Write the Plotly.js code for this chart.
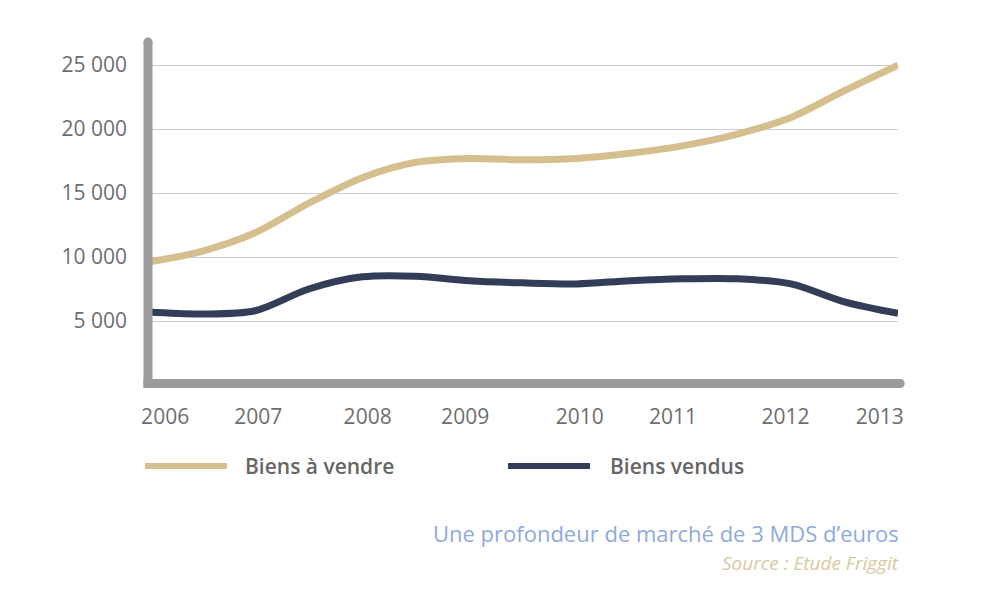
<!DOCTYPE html>
<html>
<head>
<meta charset="utf-8">
<script src="https://cdn.plot.ly/plotly-3.0.1.min.js"></script>
<style>html,body{margin:0;padding:0;background:#fff;}#chart{width:1000px;height:600px;}</style>
</head>
<body>
<div id="chart"></div>
<script>
// Data
const years = [2006, 2006.5, 2007, 2007.5, 2008, 2008.5, 2009, 2009.5, 2010, 2010.5, 2011, 2011.5, 2012, 2012.5, 2013];
const biensAVendre = [9600, 10450, 11900, 14200, 16200, 17400, 17700, 17600, 17700, 18100, 18700, 19600, 20900, 23000, 25000];
const biensVendus = [5700, 5550, 5800, 7500, 8450, 8500, 8150, 7980, 7900, 8150, 8300, 8300, 7900, 6500, 5600];
const xTickLabels = ['2006', '2007', '2008', '2009', '2010', '2011', '2012', '2013'];
const xTickPositions = [2006.16, 2007.03, 2008.05, 2008.96, 2010.03, 2010.90, 2011.95, 2012.83];
const yTickValues = [5000, 10000, 15000, 20000, 25000];
const yTickLabels = ['5 000', '10 000', '15 000', '20 000', '25 000'];
const seriesNames = ['Biens à vendre', 'Biens vendus'];
const footerTitle = 'Une profondeur de marché de 3 MDS d’euros';
const footerSource = 'Source : Etude Friggit';

const TAN = '#d6bf8e';
const NAVY = '#323d57';
const BAR = '#9b9b9b';
const FONT = 'Open Sans, sans-serif';
const TICKCOL = '#6e6e6e';

const traces = [
  {x: years, y: biensAVendre, name: seriesNames[0], type: 'scatter', mode: 'lines',
   line: {color: TAN, width: 7, shape: 'spline', smoothing: 0.9}, showlegend: false, cliponaxis: false},
  {x: years, y: biensVendus, name: seriesNames[1], type: 'scatter', mode: 'lines',
   line: {color: NAVY, width: 7, shape: 'spline', smoothing: 0.9}, showlegend: false, cliponaxis: false}
];

const layout = {
  width: 1000, height: 600,
  margin: {l: 148, r: 102, t: 42, b: 215},
  paper_bgcolor: '#ffffff', plot_bgcolor: '#ffffff',
  font: {family: FONT, color: TICKCOL, size: 21},
  showlegend: false,
  xaxis: {
    range: [2006, 2013], showgrid: false, zeroline: false, showline: false,
    tickmode: 'array', tickvals: xTickPositions, ticktext: xTickLabels,
    ticks: '', ticklabelstandoff: 17,
    tickfont: {family: FONT, size: 21, color: TICKCOL}, fixedrange: true
  },
  yaxis: {
    range: [0, 26800], showgrid: true, gridcolor: '#cccccc', gridwidth: 1,
    zeroline: false, showline: false,
    tickmode: 'array', tickvals: yTickValues, ticktext: yTickLabels,
    ticks: '', ticklabelstandoff: 20,
    tickfont: {family: FONT, size: 21, color: TICKCOL}, fixedrange: true
  },
  shapes: [
    {type: 'line', xref: 'paper', yref: 'paper', x0: 0, x1: 0, y0: -0.009, y1: 1.0, line: {color: BAR, width: 9}, layer: 'above'},
    {type: 'line', xref: 'paper', yref: 'paper', x0: -0.006, x1: 1.003, y0: 0.0044, y1: 0.0044, line: {color: BAR, width: 9}, layer: 'above'},
    {type: 'circle', xref: 'paper', yref: 'paper', x0: -0.006, x1: 0.006, y0: 0.987, y1: 1.013, fillcolor: BAR, line: {width: 0}},
    {type: 'circle', xref: 'paper', yref: 'paper', x0: 0.997, x1: 1.009, y0: -0.0087, y1: 0.0175, fillcolor: BAR, line: {width: 0}},
    {type: 'line', xref: 'paper', yref: 'paper', x0: -0.004, x1: 0.1053, y0: -0.2362, y1: -0.2362, line: {color: TAN, width: 6}},
    {type: 'line', xref: 'paper', yref: 'paper', x0: 0.48, x1: 0.5893, y0: -0.2362, y1: -0.2362, line: {color: NAVY, width: 6}}
  ],
  annotations: [
    {xref: 'paper', yref: 'paper', x: 0.127, y: -0.2362, xanchor: 'left', yanchor: 'middle', showarrow: false,
     text: seriesNames[0], font: {family: FONT, size: 21, color: '#666666', weight: 600}},
    {xref: 'paper', yref: 'paper', x: 0.613, y: -0.2362, xanchor: 'left', yanchor: 'middle', showarrow: false,
     text: seriesNames[1], font: {family: FONT, size: 21, color: '#666666', weight: 600}},
    {xref: 'paper', yref: 'paper', x: 1.002, y: -0.4315, xanchor: 'right', yanchor: 'middle', showarrow: false, borderpad: 0,
     text: footerTitle, font: {family: FONT, size: 22, color: '#8eaae0'}},
    {xref: 'paper', yref: 'paper', x: 1.002, y: -0.519, xanchor: 'right', yanchor: 'middle', showarrow: false, borderpad: 0,
     text: '<i>' + footerSource + '</i>', font: {family: FONT, size: 19, color: '#d8c9a3'}}
  ]
};

Plotly.newPlot('chart', traces, layout, {displayModeBar: false, staticPlot: true});
</script>
</body>
</html>
